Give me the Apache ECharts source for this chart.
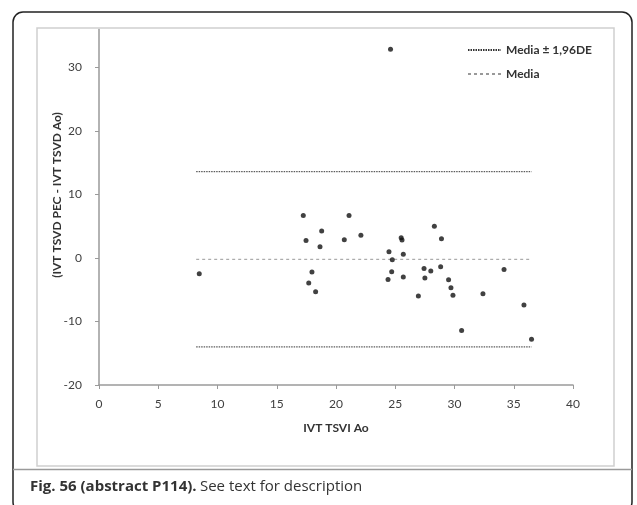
<!DOCTYPE html>
<html>
<head>
<meta charset="utf-8">
<script src="https://cdn.jsdelivr.net/npm/echarts@6/dist/echarts.min.js"></script>
<style>html,body{margin:0;padding:0;background:#fff}#c{width:637px;height:505px}</style>
</head>
<body>
<div id="c"></div>
<script>
// Data (x = IVT TSVI Ao, y = difference)
var pointsX = [8.46, 17.24, 21.1, 18.79, 22.1, 17.47, 20.7, 18.65, 25.5, 25.57, 24.47, 25.68, 24.75, 17.97, 24.7, 17.7, 24.39, 25.68, 18.28, 26.95,
               28.3, 28.9, 27.43, 28.0, 28.83, 27.5, 29.5, 29.7, 29.87, 32.4, 34.18, 35.86, 30.6, 36.5, 24.6];
var pointsY = [-2.47, 6.72, 6.72, 4.25, 3.57, 2.78, 2.89, 1.78, 3.2, 2.83, 1.0, 0.58, -0.26, -2.2, -2.15, -3.94, -3.4, -3.0, -5.3, -5.98,
               4.99, 3.04, -1.63, -2.05, -1.37, -3.15, -3.41, -4.67, -5.88, -5.62, -1.79, -7.4, -11.4, -12.8, 32.9];
var lineRangeX = [8.2, 36.5];
var meanValue = -0.2;
var upperLimit = 13.6;
var lowerLimit = -14.0;
var xTicks = [0, 5, 10, 15, 20, 25, 30, 35, 40];
var yTicks = [-20, -10, 0, 10, 20, 30];
var seriesNames = ['Media \u00b1 1,96DE', 'Media'];

var scatterData = pointsX.map(function (x, i) { return [x, pointsY[i]]; });
function hLine(v) { return [[lineRangeX[0], v], [lineRangeX[1], v]]; }

var chart = echarts.init(document.getElementById('c'), null, {renderer: 'canvas'});
var font = 'Lato, "Liberation Sans", sans-serif';
chart.setOption({
  animation: false,
  backgroundColor: '#fff',
  grid: {left: 99, right: 64, top: 29.5, bottom: 120},
  xAxis: {
    type: 'value', min: 0, max: 40, interval: 5,
    name: 'IVT TSVI Ao', nameLocation: 'middle', nameGap: 37,
    nameTextStyle: {fontFamily: font, fontWeight: 'bold', fontSize: 12, color: '#333'},
    axisLine: {onZero: false, lineStyle: {color: '#9a9a9a', width: 1.5}},
    axisTick: {show: true, inside: false, length: 4, lineStyle: {color: '#9a9a9a'}},
    axisLabel: {fontFamily: font, fontSize: 12, color: '#404040', margin: 13,
      formatter: function (v) { return xTicks.indexOf(v) >= 0 ? String(v) : ''; }},
    splitLine: {show: false}
  },
  yAxis: {
    type: 'value', min: -20, max: 36, interval: 10,
    axisLine: {show: true, onZero: false, lineStyle: {color: '#9a9a9a', width: 1.5}},
    axisTick: {show: true, inside: false, length: 4, lineStyle: {color: '#9a9a9a'}},
    axisLabel: {fontFamily: font, fontSize: 12, color: '#404040', margin: 17, showMaxLabel: false,
      formatter: function (v) { return yTicks.indexOf(v) >= 0 ? String(v) : ''; }},
    splitLine: {show: false}
  },
  legend: {
    orient: 'vertical', left: 462, top: 39, itemWidth: 33, itemHeight: 12, itemGap: 12,
    data: [seriesNames[0], seriesNames[1]],
    itemStyle: {opacity: 0},
    textStyle: {fontFamily: font, fontWeight: 'bold', fontSize: 12, color: '#333'}
  },
  series: [
    {type: 'line', name: seriesNames[0], data: hLine(upperLimit), symbol: 'none',
      lineStyle: {color: '#333', width: 1, type: [1.5, 1]}, z: 2},
    {type: 'line', name: seriesNames[0], data: hLine(lowerLimit), symbol: 'none',
      lineStyle: {color: '#333', width: 1, type: [1.5, 1]}, z: 2},
    {type: 'line', name: seriesNames[1], data: hLine(meanValue), symbol: 'none',
      lineStyle: {color: '#999', width: 1, type: [3, 3]}, z: 2},
    {type: 'scatter', name: 'data', data: scatterData, symbolSize: 5,
      itemStyle: {color: '#111'}, z: 3}
  ],
  graphic: [
    {type: 'rect', shape: {x: 13, y: 12, width: 619, height: 500, r: 10}, style: {fill: 'none', stroke: '#222', lineWidth: 1.5}, z: -10},
    {type: 'rect', shape: {x: 37, y: 28, width: 577, height: 438}, style: {fill: 'none', stroke: '#d0d0d0', lineWidth: 1.5}, z: -10},
    {type: 'line', shape: {x1: 13, y1: 469.5, x2: 632, y2: 469.5}, style: {stroke: '#9a9a9a', lineWidth: 1.5}, z: -10},
    {type: 'text', x: 57, y: 195, rotation: Math.PI / 2,
      style: {text: '(IVT TSVD PEC - IVT TSVD Ao)', fontFamily: font, fontWeight: 'bold', fontSize: 12, fill: '#333', align: 'center', verticalAlign: 'middle'}},
    {type: 'text', x: 30, y: 487,
      style: {text: '{b|Fig. 56 (abstract P114).} {r|See text for description}', verticalAlign: 'middle',
        rich: {
          b: {fontFamily: '"Open Sans", sans-serif', fontWeight: 'bold', fontSize: 15, fill: '#333'},
          r: {fontFamily: '"Open Sans", sans-serif', fontSize: 15, fill: '#333'}
        }}}
  ]
});
</script>
</body>
</html>
